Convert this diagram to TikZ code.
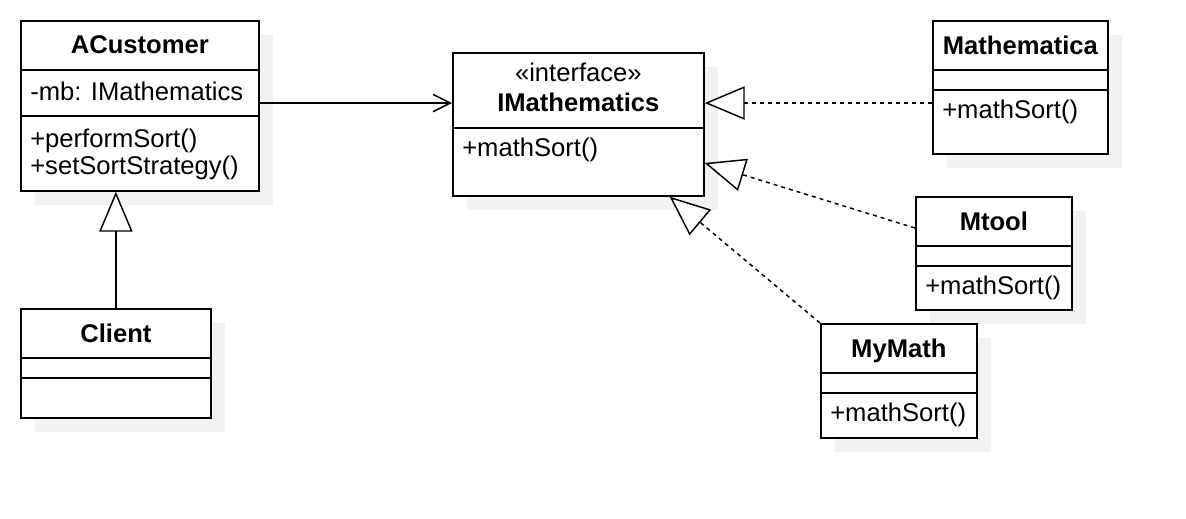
\documentclass[tikz,border=0pt]{standalone}
\usepackage{fontspec}
\setmainfont{Liberation Sans}
\usetikzlibrary{arrows.meta,calc,shadows}

\definecolor{shadowgray}{RGB}{242,242,242}
\newcommand{\umlfont}{\fontsize{19.2pt}{21pt}\selectfont}

\tikzset{
  classbox/.style={draw, line width=1.3pt, fill=white, inner sep=0pt, anchor=north west,
    drop shadow={shadow xshift=10.5pt, shadow yshift=-10.5pt, fill=shadowgray, opacity=1}},
  divider/.style={line width=1.3pt},
  classtitle/.style={font=\umlfont\bfseries, inner sep=0pt, anchor=base},
  member/.style={font=\umlfont, inner sep=0pt, anchor=base west},
  realize/.style={line width=1.1pt, dash pattern=on 3pt off 3pt,
    -{Triangle[fill=white, length=30pt, width=25pt]}},
  inherit/.style={line width=1.1pt, -{Triangle[fill=white, length=30pt, width=25pt]}},
  assoc/.style={line width=1.1pt, -{Straight Barb[length=13pt, width=13pt]}},
}

\begin{document}
\begin{tikzpicture}[x=0.75pt, y=-0.75pt]

\useasboundingbox (0,0) rectangle (1186,518);

% ACustomer
\node[classbox, minimum width=178.5pt, minimum height=127.5pt] (acust) at (20,20) {};
\draw[divider] ([yshift=-37.5pt]acust.north west) -- ([yshift=-37.5pt]acust.north east);
\draw[divider] ([yshift=-72pt]acust.north west) -- ([yshift=-72pt]acust.north east);
\node[classtitle] (acust-title) at ([yshift=-25pt]acust.north) {ACustomer};
\node[member] (acust-attr) at ([xshift=7.5pt, yshift=-60pt]acust.north west) {-mb: IMathematics};
\node[member] (acust-op1) at ([xshift=7.5pt, yshift=-95.25pt]acust.north west) {+performSort()};
\node[member] (acust-op2) at ([xshift=7.5pt, yshift=-115.5pt]acust.north west) {+setSortStrategy()};

% Client
\node[classbox, minimum width=142.5pt, minimum height=81.75pt] (client) at (20,308) {};
\draw[divider] ([yshift=-37.5pt]client.north west) -- ([yshift=-37.5pt]client.north east);
\draw[divider] ([yshift=-52.5pt]client.north west) -- ([yshift=-52.5pt]client.north east);
\node[classtitle] (client-title) at ([yshift=-25.5pt]client.north) {Client};

% IMathematics
\node[classbox, minimum width=188.25pt, minimum height=107.25pt] (imath) at (452,52) {};
\draw[divider] ([yshift=-57pt]imath.north west) -- ([yshift=-57pt]imath.north east);
\node[member, anchor=base] (imath-stereo) at ([yshift=-21.75pt]imath.north) {«interface»};
\node[classtitle] (imath-title) at ([yshift=-44.25pt]imath.north) {IMathematics};
\node[member] (imath-op) at ([xshift=7.5pt, yshift=-78pt]imath.north west) {+mathSort()};

% implementations
\foreach \n/\t/\x/\y/\w/\h in {mathematica/Mathematica/932/20/131.25pt/99.75pt,
    mtool/Mtool/915/196/117pt/84.75pt, mymath/MyMath/820/323/117pt/85.5pt}
{
  \node[classbox, minimum width=\w, minimum height=\h] (\n) at (\x,\y) {};
  \draw[divider] ([yshift=-37.5pt]\n.north west) -- ([yshift=-37.5pt]\n.north east);
  \draw[divider] ([yshift=-52.5pt]\n.north west) -- ([yshift=-52.5pt]\n.north east);
  \node[classtitle] (\n-title) at ([yshift=-25.5pt]\n.north) {\t};
  \node[member] (\n-op) at ([xshift=7.5pt, yshift=-73.5pt]\n.north west) {+mathSort()};
}

% connectors
\coordinate (ac-out) at ($(acust.north east)+(0,83)$);
\draw[assoc] (ac-out) -- (ac-out -| imath.west);

\draw[inherit] (client.north) -- (client.north |- acust.south);

\coordinate (ma-out) at ($(mathematica.north west)+(0,83)$);
\draw[realize] (ma-out) -- (ma-out -| imath.east);
\draw[realize] ($(mtool.north west)+(0,32)$) -- ($(imath.north east)+(0,111)$);
\draw[realize] (mymath.north west) -- ($(imath.south east)+(-35,0)$);

\end{tikzpicture}
\end{document}
